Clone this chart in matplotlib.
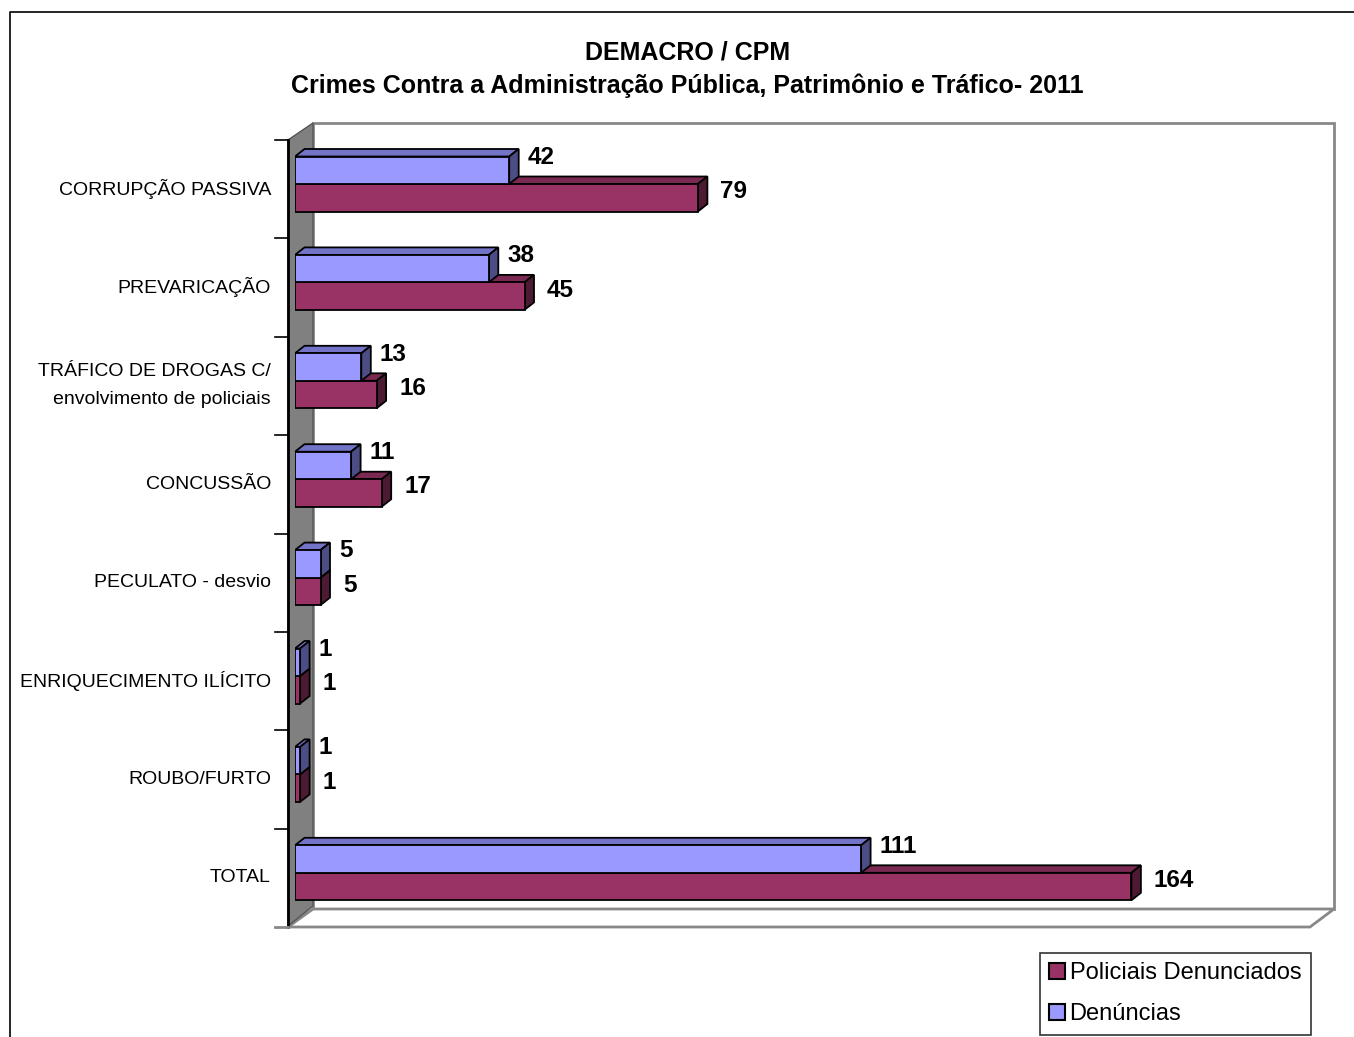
import matplotlib
matplotlib.use("Agg")
import matplotlib.pyplot as plt
from matplotlib.patches import Polygon, Patch
from matplotlib.transforms import offset_copy

plt.rcParams['font.family'] = ['Liberation Sans', 'DejaVu Sans']

categorias = ["CORRUPÇÃO PASSIVA", "PREVARICAÇÃO",
              "TRÁFICO DE DROGAS C/\nenvolvimento de policiais",
              "CONCUSSÃO", "PECULATO - desvio", "ENRIQUECIMENTO ILÍCITO",
              "ROUBO/FURTO", "TOTAL"]
policiais = [79, 45, 16, 17, 5, 1, 1, 164]
denuncias = [42, 38, 13, 11, 5, 1, 1, 111]

W, H = 1354, 1037
fig = plt.figure(figsize=(W / 100, H / 100), dpi=100)

# fundo em pixels (moldura, parede, piso)
bg = fig.add_axes([0, 0, 1, 1], zorder=0)
bg.set_xlim(0, W)
bg.set_ylim(H, 0)
bg.axis('off')

bg.plot([10, 10, W], [H, 12, 12], color='black', lw=1.2)

cinza = '#888888'
# plano de fundo
bg.add_patch(Polygon([(313, 123), (1334, 123), (1334, 909), (313, 909)],
                     closed=True, facecolor='white', edgecolor=cinza, lw=2))
# piso
bg.add_patch(Polygon([(288, 927), (313, 909), (1334, 909), (1310, 927)],
                     closed=True, facecolor='white', edgecolor=cinza, lw=2))
# parede lateral
bg.add_patch(Polygon([(288, 140), (313, 123), (313, 906), (288, 926)],
                     closed=True, facecolor='#808080', edgecolor='#555555', lw=1))
bg.plot([288, 288], [140, 927], color='black', lw=2)
bg.plot([275, 288], [927, 927], color=cinza, lw=2)
passo = 98.4
for k in range(len(categorias)):
    yy = 140 + passo * k
    bg.plot([275, 288], [yy, yy], color='black', lw=1.2)

# eixo dos dados (plano frontal das barras)
x0, escala = 295, 5.1
xmax = 200
ytop = 184 - passo / 2
n = len(categorias)
ax = fig.add_axes([x0 / W, 1 - (ytop + passo * n) / H,
                   xmax * escala / W, passo * n / H], zorder=1)
ax.set_xlim(0, xmax)
ax.set_ylim(n - 0.5, -0.5)
ax.axis('off')
ax.patch.set_alpha(0)

DX = 9.5 / escala
DY = -7.5 / passo
alt = 27.5 / passo

cores = {
    'red': ('#993366', '#7a2952', '#4d1a33'),
    'blue': ('#9999ff', '#7373c8', '#4d4d85'),
}


def barra(y0, w, cor):
    frente, topo, lado = cores[cor]
    y1 = y0 + alt
    ax.add_patch(Polygon([(0, y0), (w, y0), (w + DX, y0 + DY), (DX, y0 + DY)],
                         closed=True, facecolor=topo, edgecolor='black', lw=1.3))
    ax.add_patch(Polygon([(w, y0), (w + DX, y0 + DY), (w + DX, y1 + DY), (w, y1)],
                         closed=True, facecolor=lado, edgecolor='black', lw=1.3))
    ax.barh(y0, w, height=alt, align='edge', color=frente,
            edgecolor='black', lw=1.3)


for i in range(n):
    barra(i, policiais[i], 'red')
    barra(i - alt, denuncias[i], 'blue')
    ax.annotate(str(denuncias[i]), xy=(denuncias[i] + DX, i - alt / 2),
                xytext=(9, 13), textcoords='offset pixels',
                ha='left', va='center', fontsize=17.5, fontweight='bold')
    ax.annotate(str(policiais[i]), xy=(policiais[i] + DX, i + alt / 2),
                xytext=(13, 6), textcoords='offset pixels',
                ha='left', va='center', fontsize=17.5, fontweight='bold')

rot = offset_copy(ax.transData, fig=fig, x=-24, y=-5, units='dots')
for i, c in enumerate(categorias):
    ax.text(0, i, c, transform=rot, ha='right', va='center',
            fontsize=14, linespacing=1.85)

fig.text(688 / W, 1 - 53 / H, "DEMACRO / CPM", ha='center', va='center',
         fontsize=18, fontweight='bold')
fig.text(687 / W, 1 - 86 / H,
         "Crimes Contra a Administração Pública, Patrimônio e Tráfico- 2011",
         ha='center', va='center', fontsize=18, fontweight='bold')

alcas = [Patch(facecolor=cores['red'][0], edgecolor='black', lw=1.5),
         Patch(facecolor=cores['blue'][0], edgecolor='black', lw=1.5)]
leg = bg.legend(alcas, ["Policiais Denunciados", "Denúncias"],
                loc='upper left', bbox_to_anchor=(1040 / W, 1 - 953 / H),
                bbox_transform=fig.transFigure, fontsize=17,
                frameon=True, fancybox=False, edgecolor='black',
                borderaxespad=0, handlelength=0.65, handleheight=0.65,
                handletextpad=0.2, labelspacing=0.8, borderpad=0.4)
leg.get_frame().set_linewidth(1.2)

fig.savefig("out.png", dpi=100, facecolor='white')
